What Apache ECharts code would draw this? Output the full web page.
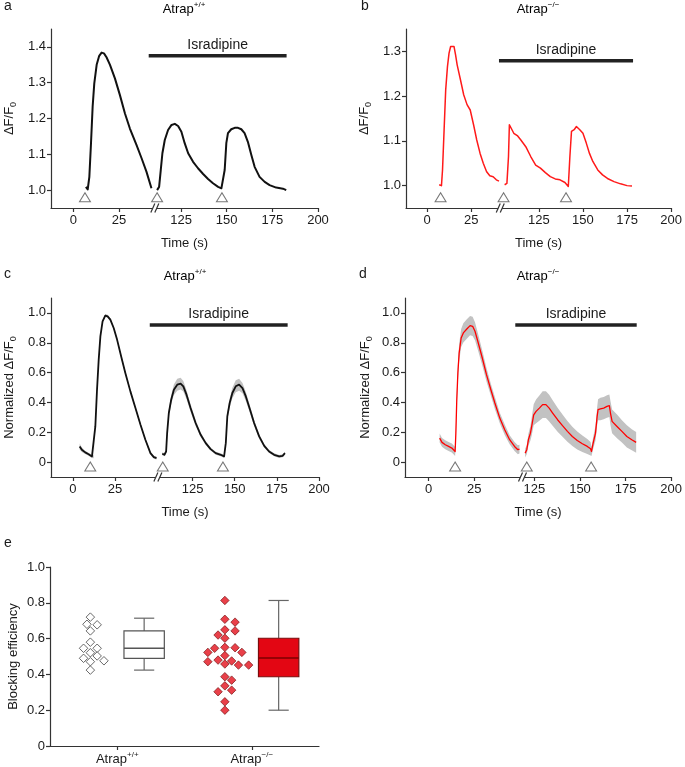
<!DOCTYPE html>
<html><head><meta charset="utf-8">
<script src="https://cdn.jsdelivr.net/npm/echarts@6/dist/echarts.min.js"></script>
<style>html,body{margin:0;padding:0;background:#fff}#c{width:685px;height:767px}</style>
</head><body><div id="c"></div>
<script>
// ================= DATA =================
const tickTimes = [0, 25, 125, 150, 175, 200];
const yTicksA = [1.0, 1.1, 1.2, 1.3, 1.4];
const yTicksB = [1.0, 1.1, 1.2, 1.3];
const yTicksNorm = [0, 0.2, 0.4, 0.6, 0.8, 1.0];
const yTicksE = [0, 0.2, 0.4, 0.6, 0.8, 1.0];
const groupNames = ['Atrap', 'Atrap'];
const groupSups = ['+/+', '\u2212/\u2212'];

// Panel a (Atrap+/+, raw)
const aPreT = [6.9, 7.9, 8.8, 9.7, 10.6, 11.5, 12.8, 14.2, 15.5, 16.8, 18.2, 20.1, 22.8, 25.5, 28.3, 31.0, 34.6, 37.4, 40.1, 42.8];
const aPreY = [1.009, 1.002, 1.037, 1.131, 1.233, 1.298, 1.350, 1.375, 1.384, 1.382, 1.371, 1.350, 1.312, 1.266, 1.214, 1.172, 1.126, 1.089, 1.051, 1.005];
const aPostT = [111.9, 113.0, 113.9, 114.8, 116.1, 117.9, 119.8, 121.6, 123.4, 125.2, 127.0, 128.9, 131.6, 134.3, 137.1, 139.8, 142.5, 145.3, 147.1, 148.0, 148.9, 149.8, 150.7, 152.5, 154.4, 156.2, 158.0, 159.8, 161.6, 163.5, 165.3, 168.0, 170.8, 173.5, 177.1, 180.8, 182.6];
const aPostY = [1.000, 1.009, 1.056, 1.103, 1.140, 1.168, 1.182, 1.185, 1.179, 1.163, 1.131, 1.103, 1.079, 1.061, 1.045, 1.031, 1.019, 1.009, 1.005, 1.002, 1.056, 1.131, 1.159, 1.170, 1.174, 1.174, 1.170, 1.159, 1.135, 1.098, 1.065, 1.037, 1.023, 1.014, 1.007, 1.004, 1.000];
const aStim = [6.4, 111.9, 147.4];
const aDrug = [41.3, 182.8];

// Panel b (Atrap-/-, raw)
const bPreT = [6.8, 8.1, 8.7, 9.6, 10.5, 11.5, 12.4, 13.3, 14.2, 15.2, 16.1, 17.0, 18.9, 20.7, 22.6, 24.4, 26.3, 28.1, 30.0, 31.8, 33.7, 35.5, 37.4, 39.2, 40.7];
const bPreY = [1.002, 1.000, 1.035, 1.125, 1.214, 1.266, 1.296, 1.311, 1.315, 1.311, 1.292, 1.270, 1.236, 1.203, 1.181, 1.169, 1.136, 1.102, 1.072, 1.050, 1.031, 1.022, 1.020, 1.013, 1.010];
const bPostT = [105.6, 106.9, 107.8, 108.3, 109.3, 110.8, 113.0, 114.8, 117.6, 120.4, 123.2, 125.9, 128.7, 131.5, 134.3, 137.0, 139.8, 141.7, 142.6, 143.5, 145.0, 146.3, 148.2, 150.0, 151.9, 153.7, 155.6, 158.4, 161.1, 163.9, 167.6, 171.3, 175.0, 177.8];
const bPostY = [1.002, 1.005, 1.065, 1.136, 1.132, 1.117, 1.111, 1.102, 1.087, 1.065, 1.046, 1.039, 1.029, 1.020, 1.015, 1.013, 1.007, 0.998, 1.065, 1.121, 1.125, 1.132, 1.125, 1.117, 1.095, 1.072, 1.054, 1.035, 1.024, 1.016, 1.009, 1.004, 1.000, 0.999];
const bStim = [7.6, 105.0, 140.4];
const bDrug = [40.7, 178.4];

// Panel c (Atrap+/+, normalized mean ± SEM)
const cPreT = [4.0, 5.3, 7.3, 9.3, 11.3, 12.3, 13.3, 14.3, 15.3, 16.3, 17.6, 19.2, 20.6, 22.2, 24.2, 26.2, 28.6, 31.1, 34.1, 37.1, 40.1, 43.0, 46.0, 48.0, 49.6];
const cPreY = [0.105, 0.083, 0.065, 0.053, 0.038, 0.035, 0.239, 0.485, 0.687, 0.843, 0.944, 0.982, 0.977, 0.955, 0.899, 0.821, 0.709, 0.597, 0.474, 0.362, 0.250, 0.150, 0.060, 0.033, 0.027];
const cPreS = [0.02, 0.015, 0.01, 0.01, 0.01, 0.01, 0.01, 0.01, 0.01, 0.01, 0.01, 0.01, 0.01, 0.01, 0.01, 0.01, 0.01, 0.01, 0.01, 0.01, 0.01, 0.01, 0.01, 0.01, 0.01];
const cPostT = [107.0, 108.3, 109.3, 109.9, 110.9, 112.3, 113.9, 115.9, 117.9, 119.5, 121.4, 123.8, 126.8, 129.8, 132.8, 135.7, 138.7, 141.7, 143.7, 144.7, 145.6, 147.0, 148.6, 150.6, 152.6, 154.6, 156.6, 159.1, 161.5, 164.5, 167.5, 170.4, 173.4, 176.4, 178.4, 179.8];
const cPostY = [0.056, 0.049, 0.071, 0.194, 0.329, 0.418, 0.485, 0.519, 0.526, 0.508, 0.452, 0.362, 0.262, 0.183, 0.127, 0.087, 0.060, 0.049, 0.038, 0.127, 0.306, 0.396, 0.463, 0.508, 0.519, 0.496, 0.440, 0.351, 0.262, 0.172, 0.109, 0.071, 0.049, 0.038, 0.042, 0.060];
const cPostS = [0.01, 0.01, 0.01, 0.02, 0.025, 0.03, 0.035, 0.04, 0.04, 0.035, 0.03, 0.025, 0.02, 0.015, 0.012, 0.01, 0.01, 0.01, 0.01, 0.015, 0.025, 0.03, 0.035, 0.04, 0.04, 0.035, 0.03, 0.025, 0.02, 0.015, 0.012, 0.01, 0.01, 0.01, 0.01, 0.01];
const cStim = [10.3, 107.3, 143.0];
const cDrug = [45.6, 181.4];

// Panel d (Atrap-/-, normalized mean ± SEM)
const dPreT = [6.0, 7.3, 9.1, 10.9, 12.7, 14.5, 14.9, 15.4, 16.0, 16.7, 17.8, 19.0, 20.9, 22.7, 24.1, 25.4, 27.2, 29.4, 31.7, 34.1, 36.3, 39.0, 41.7, 44.4, 47.1, 48.9, 49.8];
const dPreY = [0.161, 0.132, 0.116, 0.105, 0.094, 0.071, 0.194, 0.418, 0.597, 0.731, 0.832, 0.866, 0.892, 0.915, 0.910, 0.877, 0.798, 0.698, 0.586, 0.485, 0.396, 0.295, 0.217, 0.150, 0.105, 0.083, 0.087];
const dPreS = [0.03, 0.03, 0.03, 0.03, 0.03, 0.03, 0.04, 0.05, 0.06, 0.06, 0.06, 0.065, 0.065, 0.065, 0.065, 0.06, 0.055, 0.05, 0.045, 0.04, 0.04, 0.035, 0.035, 0.03, 0.03, 0.03, 0.03];
const dPostT = [119.9, 120.8, 121.7, 122.8, 123.5, 124.6, 125.9, 127.7, 129.5, 131.3, 133.1, 135.0, 137.7, 140.4, 143.1, 145.8, 148.5, 151.3, 154.0, 155.8, 156.3, 157.2, 158.5, 159.4, 159.9, 161.2, 163.0, 164.8, 166.1, 166.7, 167.6, 170.3, 173.0, 175.7, 178.4, 180.8];
const dPostY = [0.060, 0.083, 0.150, 0.194, 0.239, 0.317, 0.340, 0.362, 0.385, 0.385, 0.362, 0.329, 0.284, 0.244, 0.206, 0.172, 0.145, 0.123, 0.105, 0.089, 0.071, 0.127, 0.194, 0.306, 0.351, 0.356, 0.362, 0.373, 0.378, 0.329, 0.273, 0.239, 0.206, 0.172, 0.150, 0.132];
const dPostS = [0.03, 0.03, 0.04, 0.05, 0.06, 0.07, 0.08, 0.085, 0.09, 0.09, 0.09, 0.085, 0.08, 0.075, 0.07, 0.065, 0.06, 0.055, 0.05, 0.045, 0.03, 0.04, 0.05, 0.06, 0.07, 0.075, 0.075, 0.075, 0.075, 0.08, 0.08, 0.08, 0.075, 0.075, 0.07, 0.07];
const dStim = [14.5, 120.8, 156.1];
const dDrug = [47.5, 181.1];

// Panel e (blocking efficiency)
const eWhiteVals = [0.72, 0.68, 0.677, 0.643, 0.58, 0.546, 0.546, 0.521, 0.503, 0.49, 0.476, 0.471, 0.424];
const eRedVals = [0.813, 0.708, 0.692, 0.649, 0.643, 0.62, 0.602, 0.551, 0.549, 0.546, 0.523, 0.523, 0.505, 0.48, 0.475, 0.471, 0.458, 0.452, 0.452, 0.387, 0.368, 0.336, 0.312, 0.303, 0.247, 0.2];
// [min, Q1, median, Q3, max]
const eWhiteBox = [0.424, 0.49, 0.546, 0.643, 0.714];
const eRedBox = [0.2, 0.387, 0.492, 0.602, 0.813];

// ================= LAYOUT / STYLE =================
const FONT = '"Liberation Sans", Arial, Helvetica, sans-serif';
const TXT = '#1a1a1a';
const AX = '#333333';
const RED = '#ee1c25';
const BREAK_T = 80;
function toDisp(t, off) { return t < BREAK_T ? t : t - off; }

const P = [
  {grid:{left:51,top:29,width:267,height:179}, xMin:-12.2, off:66, brk:45.2, yMin:0.95, yMax:1.45, yTicks:yTicksA, triY:0.98, barY:1.375, col:'#111', lw:2, name:'{n|\u0394F/F}{s|0}', nameGap:33,
   pre:[aPreT,aPreY], post:[aPostT,aPostY], stim:aStim, drug:aDrug},
  {grid:{left:406,top:29,width:267,height:179}, xMin:-12, off:61.7, brk:42, yMin:0.95, yMax:1.35, yTicks:yTicksB, triY:0.974, barY:1.279, col:'#ff1a1a', lw:1.5, name:'{n|\u0394F/F}{s|0}', nameGap:33,
   pre:[bPreT,bPreY], post:[bPostT,bPostY], stim:bStim, drug:bDrug},
  {grid:{left:51,top:298,width:268,height:179}, xMin:-13, off:54, brk:51, yMin:-0.1, yMax:1.1, yTicks:yTicksNorm, triY:-0.03, barY:0.919, col:'#111', lw:1.8, name:'{n|Normalized \u0394F/F}{s|0}', nameGap:33,
   pre:[cPreT,cPreY,cPreS], post:[cPostT,cPostY,cPostS], stim:cStim, drug:cDrug},
  {grid:{left:405,top:298,width:270,height:179}, xMin:-13, off:67, brk:52, yMin:-0.1, yMax:1.1, yTicks:yTicksNorm, triY:-0.03, barY:0.919, col:'#ff0000', lw:1.3, name:'{n|Normalized \u0394F/F}{s|0}', nameGap:31,
   pre:[dPreT,dPreY,dPreS], post:[dPostT,dPostY,dPostS], stim:dStim, drug:dDrug}
];
const EG = {left:50, top:567, width:269, height:179};
const eCenters = [1, 3];
const eSpread = 0.4;

const fmtY = v => (Math.abs(v) < 1e-9 ? '0' : v.toFixed(1));
const axisLineStyle = {color:AX, width:1.2};
const labelStyle = {fontSize:13, color:TXT, fontFamily:FONT};
const subRich = {
  n:{fontSize:13, color:TXT, fontFamily:FONT, lineHeight:18},
  s:{fontSize:9, color:TXT, fontFamily:FONT, lineHeight:9, verticalAlign:'bottom'}
};
const supRich = (c) => ({
  a:{fontSize:13, color:c, fontFamily:FONT, lineHeight:18},
  s:{fontSize:8, color:c, fontFamily:FONT, lineHeight:8, verticalAlign:'top', padding:[1,0,0,0]}
});

const grids = [], xAxes = [], yAxes = [], series = [];

P.forEach((p, i) => {
  grids.push(p.grid);
  const xTickDisp = tickTimes.map(t => toDisp(t, p.off));
  xAxes.push({
    type:'value', gridIndex:i, min:p.xMin, max:200 - p.off,
    axisLine:{show:true, onZero:false, lineStyle:axisLineStyle},
    axisTick:{show:true, customValues:xTickDisp, length:4, lineStyle:axisLineStyle},
    axisLabel:{customValues:xTickDisp, margin:6, ...labelStyle,
      formatter: v => { const k = xTickDisp.findIndex(d => Math.abs(d - v) < 0.01); return k >= 0 ? String(tickTimes[k]) : ''; }},
    splitLine:{show:false},
    name:'Time (s)', nameLocation:'middle', nameGap:29, nameTextStyle:{...labelStyle}
  });
  yAxes.push({
    type:'value', gridIndex:i, min:p.yMin, max:p.yMax,
    axisLine:{show:true, onZero:false, lineStyle:axisLineStyle},
    axisTick:{show:true, customValues:p.yTicks, length:4, lineStyle:axisLineStyle},
    axisLabel:{customValues:p.yTicks, margin:5, formatter:fmtY, ...labelStyle},
    splitLine:{show:false},
    name:p.name, nameLocation:'middle', nameGap:p.nameGap, nameRotate:90,
    nameTextStyle:{...labelStyle, rich:subRich}
  });

  // SEM band
  if (p.pre.length === 3) {
    series.push({
      type:'custom', xAxisIndex:i, yAxisIndex:i, data:[[0, 0]], z:1, silent:true,
      renderItem:(params, api) => {
        const polys = [p.pre, p.post].map(([T, Y, S]) => {
          const up = T.map((t, k) => api.coord([toDisp(t, p.off), Y[k] + S[k]]));
          const lo = T.map((t, k) => api.coord([toDisp(t, p.off), Y[k] - S[k]])).reverse();
          return {type:'polygon', shape:{points:up.concat(lo)}, style:{fill:'#c2c2c2'}};
        });
        return {type:'group', children:polys};
      }
    });
  }
  // traces
  [p.pre, p.post].forEach(seg => {
    series.push({
      type:'line', xAxisIndex:i, yAxisIndex:i, showSymbol:false, symbol:'none', z:3, silent:true,
      data: seg[0].map((t, k) => [toDisp(t, p.off), seg[1][k]]),
      lineStyle:{color:p.col, width:p.lw, join:'round'}
    });
  });
  // stimulation markers
  series.push({
    type:'scatter', xAxisIndex:i, yAxisIndex:i, symbol:'triangle', symbolSize:[11, 9], z:4, silent:true,
    data: p.stim.map(t => [toDisp(t, p.off), p.triY]),
    itemStyle:{color:'#fff', borderColor:'#555', borderWidth:1}
  });
  // isradipine bar + label
  series.push({
    type:'custom', xAxisIndex:i, yAxisIndex:i, data:[[0, 0]], z:4, silent:true,
    renderItem:(params, api) => {
      const p1 = api.coord([toDisp(p.drug[0], p.off), p.barY]);
      const p2 = api.coord([toDisp(p.drug[1], p.off), p.barY]);
      return {type:'group', children:[
        {type:'line', shape:{x1:p1[0], y1:p1[1], x2:p2[0], y2:p2[1]}, style:{stroke:'#222', lineWidth:3.5}},
        {type:'text', style:{text:'Isradipine', x:(p1[0] + p2[0]) / 2, y:p1[1] - 4, align:'center', verticalAlign:'bottom', fontSize:14, fontFamily:FONT, fill:TXT}}
      ]};
    }
  });
  // axis break marker
  series.push({
    type:'custom', xAxisIndex:i, yAxisIndex:i, data:[[0, 0]], z:10, silent:true, clip:false,
    renderItem:(params, api) => {
      const c = api.coord([p.brk, p.yMin]);
      const x = c[0], y = c[1];
      return {type:'group', children:[
        {type:'polygon', shape:{points:[[x-5, y+4.5], [x-1, y-4.5], [x+3, y-4.5], [x-1, y+4.5]]}, style:{fill:'#fff'}},
        {type:'line', shape:{x1:x-5, y1:y+4.5, x2:x-1, y2:y-4.5}, style:{stroke:AX, lineWidth:1.2}},
        {type:'line', shape:{x1:x-1, y1:y+4.5, x2:x+3, y2:y-4.5}, style:{stroke:AX, lineWidth:1.2}}
      ]};
    }
  });
});

// ----- panel e -----
grids.push(EG);
xAxes.push({
  type:'value', gridIndex:4, min:0, max:4,
  axisLine:{show:true, onZero:false, lineStyle:axisLineStyle},
  axisTick:{show:true, customValues:eCenters, length:4, lineStyle:axisLineStyle},
  axisLabel:{customValues:eCenters, margin:4,
    formatter: v => { const k = eCenters.indexOf(Math.round(v)); return k >= 0 ? '{a|' + groupNames[k] + '}{s|' + groupSups[k] + '}' : ''; },
    rich:supRich(TXT)},
  splitLine:{show:false}
});
yAxes.push({
  type:'value', gridIndex:4, min:0, max:1, interval:0.2,
  axisLine:{show:true, onZero:false, lineStyle:axisLineStyle},
  axisTick:{show:true, length:4, lineStyle:axisLineStyle},
  axisLabel:{margin:5, formatter:fmtY, ...labelStyle},
  splitLine:{show:false},
  name:'Blocking efficiency', nameLocation:'middle', nameGap:30, nameRotate:90, nameTextStyle:{...labelStyle}
});

// simple beeswarm layout (pixel space) -> axis units
function swarm(vals) {
  const yPx = EG.height, xPx = EG.width / 4, step = 3.4, minD = 7.4;
  const placed = [], out = [];
  vals.forEach((v, n) => {
    const y = v * yPx;
    let best = 0;
    for (let k = 0; k < 60; k++) {
      const sgn = n % 2 === 0 ? 1 : -1;
      const cands = k === 0 ? [0] : [sgn * k * step, -sgn * k * step];
      const ok = cands.find(x => placed.every(q => Math.hypot(q[0] - x, q[1] - y) >= minD));
      if (ok !== undefined) { best = ok; break; }
    }
    placed.push([best, y]);
    out.push(best / xPx);
  });
  return out;
}
const wOff = swarm(eWhiteVals), rOff = swarm(eRedVals);
series.push({
  type:'scatter', xAxisIndex:4, yAxisIndex:4, symbol:'diamond', symbolSize:8.5, z:3, silent:true,
  data: eWhiteVals.map((v, k) => [eCenters[0] - eSpread + wOff[k], v]),
  itemStyle:{color:'#fff', borderColor:'#444', borderWidth:1}
});
series.push({
  type:'scatter', xAxisIndex:4, yAxisIndex:4, symbol:'diamond', symbolSize:8.5, z:3, silent:true,
  data: eRedVals.map((v, k) => [eCenters[1] - eSpread + rOff[k], v]),
  itemStyle:{color:'#e3101b', borderColor:'#6b0a0a', borderWidth:0.8}
});
const boxStats = [eWhiteBox, eRedBox];
const boxStyle = [
  {fill:'#ffffff', stroke:'#555', med:'#555', whisk:'#666'},
  {fill:'#e30613', stroke:'#7a0d0d', med:'#7d0000', whisk:'#666'}
];
series.push({
  type:'custom', xAxisIndex:4, yAxisIndex:4, data:[[0, 0], [1, 0]], z:3, silent:true,
  renderItem:(params, api) => {
    const k = params.dataIndex, s = boxStats[k], st = boxStyle[k];
    const cx = eCenters[k] + eSpread, hw = 0.3;
    const L = api.coord([cx - hw, s[3]]), R = api.coord([cx + hw, s[1]]);
    const mL = api.coord([cx - hw, s[2]]), mR = api.coord([cx + hw, s[2]]);
    const c = api.coord([cx, s[0]]), cTop = api.coord([cx, s[4]]);
    const capW = (R[0] - L[0]) / 4;
    return {type:'group', children:[
      {type:'line', shape:{x1:c[0], y1:R[1], x2:c[0], y2:c[1]}, style:{stroke:st.whisk, lineWidth:1.2}},
      {type:'line', shape:{x1:c[0], y1:L[1], x2:c[0], y2:cTop[1]}, style:{stroke:st.whisk, lineWidth:1.2}},
      {type:'line', shape:{x1:c[0]-capW, y1:c[1], x2:c[0]+capW, y2:c[1]}, style:{stroke:st.whisk, lineWidth:1.2}},
      {type:'line', shape:{x1:c[0]-capW, y1:cTop[1], x2:c[0]+capW, y2:cTop[1]}, style:{stroke:st.whisk, lineWidth:1.2}},
      {type:'rect', shape:{x:L[0], y:L[1], width:R[0]-L[0], height:R[1]-L[1]}, style:{fill:st.fill, stroke:st.stroke, lineWidth:1.2}},
      {type:'line', shape:{x1:mL[0], y1:mL[1], x2:mR[0], y2:mR[1]}, style:{stroke:st.med, lineWidth:1.5}}
    ]};
  }
});

// ----- titles and panel letters -----
const letter = (t, x, y) => ({type:'text', x, y, style:{text:t, fontSize:14, fontFamily:FONT, fill:TXT, verticalAlign:'middle'}});
const title = (sup, c, x, y) => ({type:'text', x, y, style:{text:'{a|Atrap}{s|' + sup + '}', rich:supRich(c), align:'center', verticalAlign:'middle'}});
const graphic = [
  letter('a', 4, 6), letter('b', 361, 6), letter('c', 4, 274), letter('d', 359, 274), letter('e', 4, 543),
  title(groupSups[0], TXT, 184, 9), title(groupSups[1], RED, 538, 9),
  title(groupSups[0], TXT, 185, 276), title(groupSups[1], RED, 538, 276)
];

const chart = echarts.init(document.getElementById('c'));
chart.setOption({
  animation:false,
  backgroundColor:'#fff',
  textStyle:{fontFamily:FONT},
  grid:grids, xAxis:xAxes, yAxis:yAxes, series, graphic
});
</script>
</body></html>
